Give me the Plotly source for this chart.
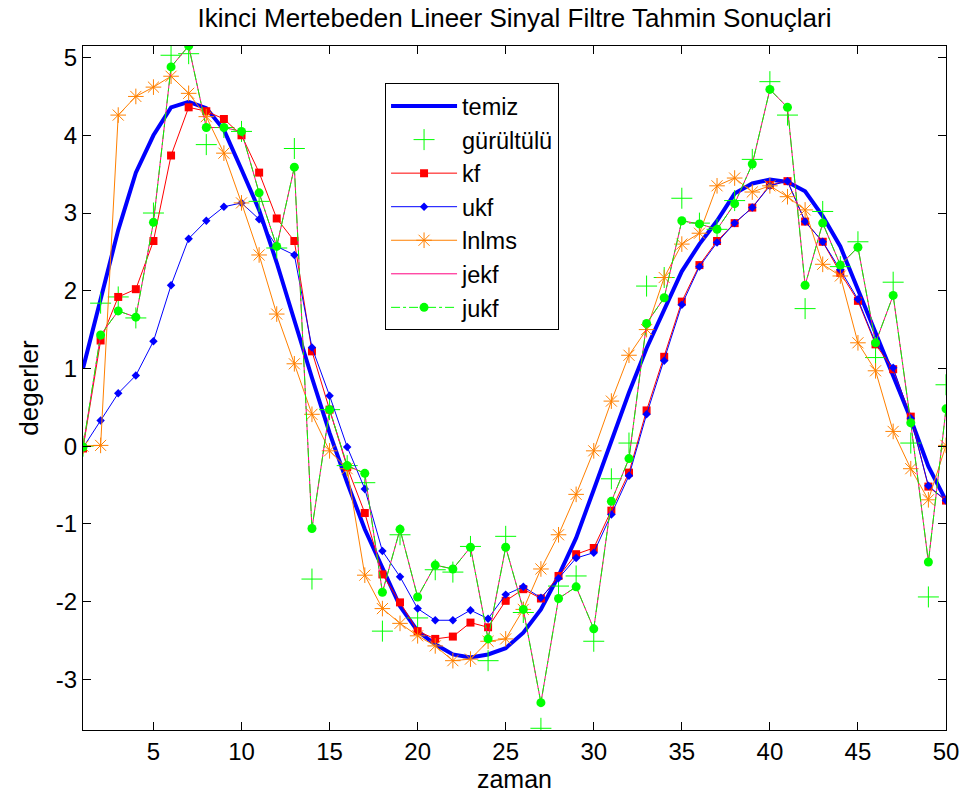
import plotly.graph_objects as go

x = list(range(1, 51))

temiz = [1.00, 1.90, 2.78, 3.52, 4.00, 4.36, 4.43, 4.35, 4.07, 3.56,
         3.04, 2.36, 1.60, 0.88, 0.17, -0.47, -1.07, -1.58, -2.06, -2.38,
         -2.55, -2.68, -2.72, -2.68, -2.60, -2.40, -2.10, -1.67, -1.18, -0.56,
         0.07, 0.69, 1.26, 1.76, 2.25, 2.60, 2.90, 3.25, 3.38, 3.43,
         3.40, 3.28, 2.96, 2.57, 2.01, 1.46, 0.92, 0.35, -0.26, -0.70]

gurultulu = [0.00, 1.84, 1.92, 1.65, 3.00, 5.03, 5.05, 3.88, 4.10, 4.05,
             3.15, 2.55, 3.83, -1.71, 0.47, -0.25, -0.47, -2.38, -1.14, -2.21,
             -1.59, -1.62, -1.29, -2.76, -1.16, -2.14, -3.63, -1.80, -1.67, -2.51,
             -0.42, 0.04, 2.06, 2.17, 3.19, 2.87, 2.79, 3.16, 3.69, 4.69,
             4.26, 1.77, 3.02, 2.31, 2.63, 1.14, 2.11, 0.04, -1.94, 0.79]

kf = [-0.03, 1.36, 1.92, 2.02, 2.64, 3.74, 4.36, 4.31, 4.21, 4.00,
      3.52, 2.93, 2.64, 1.22, 0.47, -0.27, -0.86, -1.65, -2.01, -2.38,
      -2.48, -2.45, -2.27, -2.33, -1.99, -1.84, -1.96, -1.67, -1.39, -1.31,
      -0.83, -0.34, 0.46, 1.15, 1.86, 2.33, 2.64, 2.87, 3.07, 3.36,
      3.41, 2.89, 2.63, 2.23, 1.87, 1.31, 0.99, 0.38, -0.52, -0.70]

ukf = [-0.02, 0.33, 0.68, 0.91, 1.35, 2.07, 2.67, 2.90, 3.08, 3.13,
       2.92, 2.57, 2.46, 1.27, 0.65, -0.01, -0.55, -1.35, -1.68, -2.09,
       -2.24, -2.24, -2.11, -2.22, -1.91, -1.81, -1.95, -1.70, -1.44, -1.37,
       -0.88, -0.38, 0.41, 1.10, 1.82, 2.31, 2.62, 2.87, 3.07, 3.35,
       3.41, 2.89, 2.63, 2.27, 1.89, 1.33, 1.01, 0.36, -0.51, -0.70]

lnlms = [0.00, 0.01, 4.26, 4.50, 4.62, 4.76, 4.54, 4.24, 3.77, 3.13,
         2.46, 1.70, 1.06, 0.41, -0.06, -0.29, -1.66, -2.09, -2.28, -2.44,
         -2.57, -2.76, -2.74, -2.51, -2.48, -2.10, -1.58, -1.14, -0.62, -0.06,
         0.58, 1.17, 1.50, 2.17, 2.60, 2.74, 3.35, 3.45, 3.27, 3.35,
         3.21, 3.04, 2.34, 2.19, 1.33, 0.97, 0.19, -0.29, -0.69, 0.01]

jekf = [-0.01, 1.43, 1.74, 1.66, 2.88, 4.88, 5.15, 4.10, 4.10, 4.05,
        3.26, 2.57, 3.59, -1.06, 0.47, -0.25, -0.35, -1.88, -1.07, -1.94,
        -1.53, -1.58, -1.30, -2.48, -1.30, -2.10, -3.30, -1.96, -1.81, -2.35,
        -0.71, -0.16, 1.58, 1.91, 2.90, 2.86, 2.79, 3.12, 3.63, 4.59,
        4.36, 2.07, 2.87, 2.33, 2.56, 1.33, 1.94, 0.30, -1.49, 0.48]

jukf = [-0.01, 1.43, 1.74, 1.66, 2.88, 4.88, 5.15, 4.10, 4.10, 4.05,
        3.26, 2.57, 3.59, -1.06, 0.47, -0.25, -0.35, -1.88, -1.07, -1.94,
        -1.53, -1.58, -1.30, -2.48, -1.30, -2.10, -3.30, -1.96, -1.81, -2.35,
        -0.71, -0.16, 1.58, 1.91, 2.90, 2.86, 2.79, 3.12, 3.63, 4.59,
        4.36, 2.07, 2.87, 2.33, 2.56, 1.33, 1.94, 0.30, -1.49, 0.48]

x_ticks = [5, 10, 15, 20, 25, 30, 35, 40, 45, 50]
y_ticks = [-3, -2, -1, 0, 1, 2, 3, 4, 5]
y_ticklabels = ["-3", "-2", "-1", "0", "1", "2", "3", "4", "5"]

FONT = "Liberation Sans, Arial, sans-serif"

fig = go.Figure()
fig.add_trace(go.Scatter(x=x, y=temiz, mode="lines", name="temiz",
                         line=dict(color="#0000ff", width=4)))
fig.add_trace(go.Scatter(x=x, y=gurultulu, mode="markers", name="gürültülü",
                         marker=dict(symbol="cross-thin-open", size=15, color="#00ff00",
                                     line=dict(color="#00ff00", width=1))))
fig.add_trace(go.Scatter(x=x, y=kf, mode="lines+markers", name="kf",
                         line=dict(color="#ff0000", width=1),
                         marker=dict(symbol="square", size=8, color="#ff0000")))
fig.add_trace(go.Scatter(x=x, y=ukf, mode="lines+markers", name="ukf",
                         line=dict(color="#0000ff", width=1),
                         marker=dict(symbol="diamond", size=6.5, color="#0000ff")))
fig.add_trace(go.Scatter(x=x, y=lnlms, mode="lines+markers", name="lnlms",
                         line=dict(color="#ff8000", width=1),
                         marker=dict(symbol="asterisk-open", size=13, color="#ff8000",
                                     line=dict(color="#ff8000", width=1))))
fig.add_trace(go.Scatter(x=x, y=jekf, mode="lines", name="jekf",
                         line=dict(color="#ff0080", width=1)))
fig.add_trace(go.Scatter(x=x, y=jukf, mode="lines+markers", name="jukf",
                         line=dict(color="#00ff00", width=1, dash="dashdot"),
                         marker=dict(symbol="circle", size=9, color="#00ff00")))

axis_common = dict(showline=True, linecolor="black", linewidth=1, mirror="ticks",
                   ticks="inside", ticklen=8, tickcolor="black", showgrid=False,
                   zeroline=False, tickfont=dict(family=FONT, size=24, color="black"))

fig.update_layout(
    width=971, height=802,
    margin=dict(l=83, r=22, t=46, b=72),
    paper_bgcolor="white", plot_bgcolor="white",
    title=dict(text="Ikinci Mertebeden Lineer Sinyal Filtre Tahmin Sonuçlari",
               xref="paper", x=0.5, xanchor="center", y=0.978, yanchor="middle",
               font=dict(family=FONT, size=26, color="black")),
    xaxis=dict(range=[1, 50], tickvals=x_ticks,
               title=dict(text="zaman", font=dict(family=FONT, size=25, color="black"), standoff=4),
               **axis_common),
    yaxis=dict(range=[-3.652, 5.149], tickvals=y_ticks, ticktext=y_ticklabels,
               title=dict(text="degerler", font=dict(family=FONT, size=26, color="black"), standoff=9),
               **axis_common),
    legend=dict(x=0.35, y=0.9455, xanchor="left", yanchor="top",
                bgcolor="white", bordercolor="black", borderwidth=1,
                font=dict(family=FONT, size=23.5, color="black"),
                itemwidth=66, traceorder="normal"),
    showlegend=True,
)

fig.write_html("out.html")
